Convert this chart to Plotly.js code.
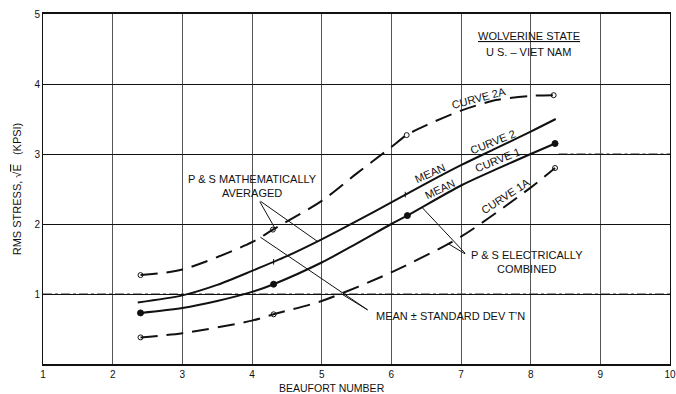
<!DOCTYPE html>
<html>
<head>
<meta charset="utf-8">
<script src="https://cdn.plot.ly/plotly-3.0.1.min.js"></script>
<style>
  html, body { margin: 0; padding: 0; background: #fff; }
  #chart { width: 676px; height: 394px; }
</style>
</head>
<body>
<div id="chart"></div>
<script>
// RMS stress vs. Beaufort number, Wolverine State (U.S. - Viet Nam route)

// Curve 2A: mean + standard deviation, P & S mathematically averaged
const beaufort2A = [2.4, 3, 4, 4.3, 5, 5.5, 6, 6.22, 6.5, 7, 7.5, 8, 8.33];
const stress2A   = [1.27, 1.35, 1.74, 1.92, 2.33, 2.72, 3.1, 3.27, 3.41, 3.62, 3.77, 3.83, 3.84];

// Curve 2: mean, P & S mathematically averaged
const beaufort2 = [2.36, 3, 3.5, 4, 4.5, 5, 5.5, 6, 6.5, 7, 7.5, 8, 8.36];
const stress2   = [0.88, 0.98, 1.13, 1.33, 1.54, 1.78, 2.04, 2.31, 2.58, 2.84, 3.08, 3.32, 3.50];

// Curve 1: mean, P & S electrically combined
const beaufort1 = [2.4, 3, 3.5, 4, 4.31, 5, 5.5, 6, 6.23, 7, 7.5, 8, 8.35];
const stress1   = [0.73, 0.80, 0.90, 1.03, 1.14, 1.45, 1.72, 2.0, 2.12, 2.55, 2.78, 3.0, 3.15];

// Curve 1A: mean + standard deviation, P & S electrically combined
const beaufort1A = [2.4, 3, 4, 4.31, 5, 6, 7, 8, 8.35];
const stress1A   = [0.38, 0.44, 0.62, 0.71, 0.90, 1.31, 1.82, 2.52, 2.80];

// Plotted data points on each curve
const pts2A_x = [2.4, 4.3, 6.22, 8.33];
const pts2A_y = [1.27, 1.92, 3.27, 3.84];
const pts2_x  = [4.31, 6.2];
const pts2_y  = [1.46, 2.42];
const pts1_x  = [2.4, 4.31, 6.23, 8.35];
const pts1_y  = [0.73, 1.14, 2.12, 3.15];
const pts1A_x = [2.4, 4.31, 8.35];
const pts1A_y = [0.38, 0.71, 2.80];

// Axis ticks
const xTicks = [1, 2, 3, 4, 5, 6, 7, 8, 9, 10];
const yTicks = [1, 2, 3, 4, 5];

// Linear lookup of a curve's value at a given Beaufort number
function onCurve(xs, ys, x) {
  for (let i = 0; i < xs.length - 1; i++) {
    if (x >= xs[i] && x <= xs[i + 1]) {
      const t = (x - xs[i]) / (xs[i + 1] - xs[i]);
      return ys[i] + t * (ys[i + 1] - ys[i]);
    }
  }
  return ys[ys.length - 1];
}

const INK = '#111';
const FONT = 'Liberation Sans, Arial, sans-serif';
const DASH = '17px,9px';

function curve(xs, ys, dash) {
  return {
    x: xs, y: ys, type: 'scatter', mode: 'lines',
    line: { color: INK, width: 2, dash: dash, shape: 'spline', smoothing: 0.8 },
    hoverinfo: 'skip', showlegend: false
  };
}
function points(xs, ys, symbol, size) {
  return {
    x: xs, y: ys, type: 'scatter', mode: 'markers',
    marker: { symbol: symbol, size: size, color: INK, line: { color: INK, width: 1 } },
    hoverinfo: 'skip', showlegend: false
  };
}

const traces = [
  curve(beaufort2A, stress2A, DASH),
  curve(beaufort2, stress2, 'solid'),
  curve(beaufort1, stress1, 'solid'),
  curve(beaufort1A, stress1A, DASH),
  points(pts2A_x, pts2A_y, 'circle-open', 5),
  points(pts2_x, pts2_y, 'line-ns', 4),
  points(pts1_x, pts1_y, 'circle', 6),
  points(pts1A_x, pts1A_y, 'circle-open', 5)
];

function label(text, x, y, angle, size) {
  return {
    text: text, x: x, y: y, xref: 'x', yref: 'y', showarrow: false,
    textangle: angle || 0, font: { family: FONT, size: size || 11, color: INK }
  };
}
// Curve name written just above the curve it names
function curveLabel(text, xs, ys, x, lift, angle) {
  return label(text, x, onCurve(xs, ys, x) + lift, angle, 11);
}
// Leader line from a note (tail) to a point on a curve (tip)
function leader(tipX, tipY, tailX, tailY) {
  return {
    text: '', x: tipX, y: tipY, ax: tailX, ay: tailY,
    xref: 'x', yref: 'y', axref: 'x', ayref: 'y',
    showarrow: true, arrowhead: 0, arrowwidth: 1, arrowcolor: INK
  };
}

const annotations = [
  label('<u>WOLVERINE STATE</u>', 7.97, 4.69, 0, 11),
  label('U S. \u2013 VIET NAM', 7.97, 4.46, 0, 11),

  curveLabel('CURVE 2A', beaufort2A, stress2A, 7.25, 0.11, -15),
  curveLabel('CURVE 2', beaufort2, stress2, 7.45, 0.12, -22),
  curveLabel('CURVE 1', beaufort1, stress1, 7.52, 0.12, -22),
  curveLabel('CURVE 1A', beaufort1A, stress1A, 7.64, 0.13, -33),
  curveLabel('MEAN', beaufort2, stress2, 6.56, 0.12, -24),
  curveLabel('MEAN', beaufort1, stress1, 6.70, 0.12, -25),

  label('P & S MATHEMATICALLY<br>AVERAGED', 4.0, 2.55, 0, 11),
  leader(4.33, onCurve(beaufort2A, stress2A, 4.33), 4.10, 2.34),
  leader(4.94, onCurve(beaufort2, stress2, 4.94), 4.10, 2.34),

  label('P & S ELECTRICALLY<br>COMBINED', 7.95, 1.46, 0, 11),
  leader(6.44, onCurve(beaufort1, stress1, 6.44), 7.08, 1.56),
  leader(6.81, onCurve(beaufort1A, stress1A, 6.81), 7.08, 1.56),

  label('MEAN \u00b1 STANDARD DEV T\u2019N', 6.85, 0.69, 0, 11),
  leader(4.12, onCurve(beaufort2A, stress2A, 4.12), 5.68, 0.76),
  leader(5.27, onCurve(beaufort1A, stress1A, 5.27), 5.68, 0.76),

  // horizontal axis title
  {
    text: 'BEAUFORT NUMBER', xref: 'paper', yref: 'paper', x: 0.461, y: 0,
    yshift: -24, showarrow: false, xanchor: 'center', yanchor: 'middle',
    font: { family: FONT, size: 10.5, color: INK }
  }
];

const layout = {
  width: 676, height: 394,
  margin: { l: 43, r: 6, t: 14, b: 30 },
  paper_bgcolor: '#fff', plot_bgcolor: '#fff',
  font: { family: FONT, size: 10, color: INK },
  showlegend: false,
  xaxis: {
    range: [1, 10], tickvals: xTicks, ticktext: xTicks.map(String),
    showgrid: true, gridcolor: '#555', gridwidth: 1,
    showline: true, linecolor: INK, linewidth: 2, mirror: true,
    zeroline: false, ticks: '', fixedrange: true,
    tickfont: { family: FONT, size: 10, color: INK },
    automargin: false
  },
  yaxis: {
    range: [0, 5], tickvals: yTicks, ticktext: yTicks.map(String),
    showgrid: true, gridcolor: INK, gridwidth: 1,
    showline: true, linecolor: INK, linewidth: 1, mirror: true,
    zeroline: false, ticks: '', fixedrange: true,
    tickfont: { family: FONT, size: 10, color: INK },
    title: {
      text: 'RMS STRESS, \u221a<span style="text-decoration:overline">E</span>\u00a0\u00a0\u00a0(KPSI)',
      standoff: 10, font: { family: FONT, size: 11, color: INK }
    },
    automargin: false
  },
  shapes: [
    // the 1 KPSI line is drawn dash-dot across the chart
    { type: 'line', xref: 'paper', yref: 'y', x0: 0, x1: 1, y0: 1, y1: 1,
      layer: 'below', line: { color: '#fff', width: 3 } },
    { type: 'line', xref: 'paper', yref: 'y', x0: 0, x1: 1, y0: 1, y1: 1,
      layer: 'below', line: { color: '#333', width: 1, dash: 'dashdot' } },
    // the 3 KPSI line turns dash-dot past the curve ends
    { type: 'line', xref: 'x', yref: 'y', x0: 8.4, x1: 10, y0: 3, y1: 3,
      layer: 'below', line: { color: '#fff', width: 3 } },
    { type: 'line', xref: 'x', yref: 'y', x0: 8.4, x1: 10, y0: 3, y1: 3,
      layer: 'below', line: { color: '#333', width: 1, dash: 'dashdot' } }
  ],
  annotations: annotations
};

Plotly.newPlot('chart', traces, layout, { staticPlot: true, displayModeBar: false });
</script>
</body>
</html>
